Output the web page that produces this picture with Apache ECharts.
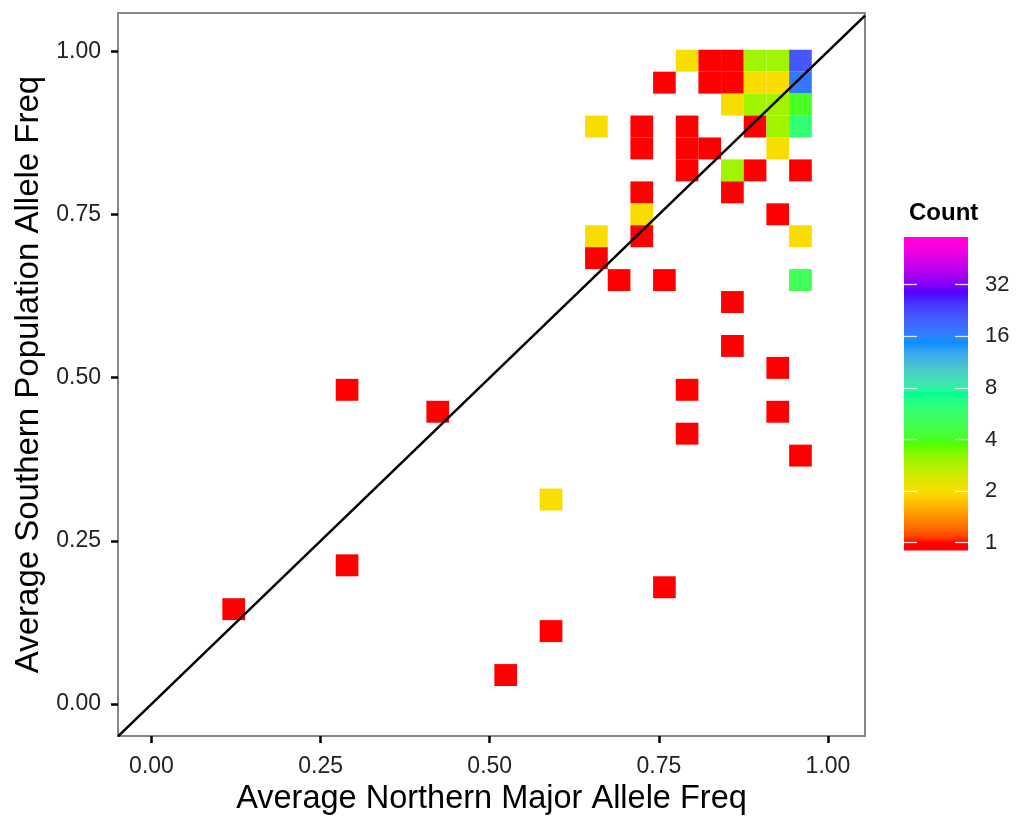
<!DOCTYPE html>
<html><head><meta charset="utf-8">
<script src="https://cdn.jsdelivr.net/npm/echarts@6/dist/echarts.min.js"></script>
<style>html,body{margin:0;padding:0;background:#fff}#chart{width:1016px;height:817px}</style>
</head><body><div id="chart"></div>
<script>
// ---- data: 2D bin centers and counts ----
const cellX = [
  0.7917,0.8252,0.8587,0.8922,0.9257,0.9593,
  0.7582,0.8252,0.8587,0.8922,0.9257,0.9593,
  0.8587,0.8922,0.9257,0.9593,
  0.6577,0.7247,0.7917,0.8922,0.9257,0.9593,
  0.7247,0.7917,0.8252,0.9257,
  0.7917,0.8587,0.8922,0.9593,
  0.7247,0.8587,
  0.7247,0.9257,
  0.6577,0.7247,0.9593,
  0.6577,
  0.6912,0.7582,0.9593,
  0.8587,
  0.8587,
  0.9257,
  0.2891,0.7917,
  0.4231,0.9257,
  0.7917,
  0.9593,
  0.5906,
  0.2891,
  0.7582,
  0.1215,
  0.5906,
  0.5236
];
const cellY = [
  0.9856,0.9856,0.9856,0.9856,0.9856,0.9856,
  0.9520,0.9520,0.9520,0.9520,0.9520,0.9520,
  0.9184,0.9184,0.9184,0.9184,
  0.8848,0.8848,0.8848,0.8848,0.8848,0.8848,
  0.8512,0.8512,0.8512,0.8512,
  0.8176,0.8176,0.8176,0.8176,
  0.7839,0.7839,
  0.7503,0.7503,
  0.7167,0.7167,0.7167,
  0.6831,
  0.6495,0.6495,0.6495,
  0.6159,
  0.5486,
  0.5150,
  0.4814,0.4814,
  0.4478,0.4478,
  0.4142,
  0.3806,
  0.3133,
  0.2125,
  0.1789,
  0.1453,
  0.1117,
  0.0444
];
const cellCount = [
  2,1,1,3,3,21,
  1,1,1,2,2,17,
  2,3,3,4,
  2,1,1,1,3,6,
  1,1,1,2,
  1,3,1,1,
  1,1,
  2,1,
  2,1,2,
  1,
  1,1,5,
  1,
  1,
  1,
  1,1,
  1,1,
  1,
  1,
  2,
  1,
  1,
  1,
  1,
  1
];
const xTicks = [0, 0.25, 0.5, 0.75, 1];
const yTicks = [0, 0.25, 0.5, 0.75, 1];
const legendBreaks = [1, 2, 4, 8, 16, 32];
const countLimits = [1, 54.6];
const palette = ['#FF0000','#FFDB00','#49FF00','#00FF92','#0092FF','#4900FF','#FF00DB'];
const ablineIntercept = 0, ablineSlope = 1;

// ---- layout / style constants ----
const binW = 0.03351, binH = 0.03361;
const xRange = [-0.0495, 1.0547], yRange = [-0.049, 1.0587];
const FONT = "'Liberation Sans', Arial, sans-serif";

// ---- Lab colour interpolation (like scales::gradient_n_pal) ----
const WHITE=[0.95047,1,1.08883];
function hexToRgb(h){return [1,3,5].map(i=>parseInt(h.substr(i,2),16)/255);}
function lin(c){return c<=0.04045?c/12.92:Math.pow((c+0.055)/1.055,2.4);}
function delin(c){return c<=0.0031308?12.92*c:1.055*Math.pow(c,1/2.4)-0.055;}
function rgbToLab(rgb){const [r,g,b]=rgb.map(lin);
  const X=0.4124564*r+0.3575761*g+0.1804375*b, Y=0.2126729*r+0.7151522*g+0.0721750*b, Z=0.0193339*r+0.1191920*g+0.9503041*b;
  const f=t=>t>216/24389?Math.cbrt(t):(24389/27*t+16)/116;
  const fx=f(X/WHITE[0]), fy=f(Y/WHITE[1]), fz=f(Z/WHITE[2]);
  return [116*fy-16, 500*(fx-fy), 200*(fy-fz)];}
function labToHex(L,a,b){const fy=(L+16)/116, fx=fy+a/500, fz=fy-b/200;
  const finv=t=>{const t3=t*t*t; return t3>216/24389?t3:(116*t-16)/(24389/27);};
  const X=finv(fx)*WHITE[0], Y=finv(fy)*WHITE[1], Z=finv(fz)*WHITE[2];
  const r=3.2404542*X-1.5371385*Y-0.4985314*Z, g=-0.9692660*X+1.8760108*Y+0.0415560*Z, bb=0.0556434*X-0.2040259*Y+1.0572252*Z;
  return '#'+[r,g,bb].map(c=>{c=Math.round(Math.min(1,Math.max(0,delin(Math.min(1,Math.max(0,c)))))*255);return c.toString(16).padStart(2,'0');}).join('');}
const palLab = palette.map(h=>rgbToLab(hexToRgb(h)));
function palColor(t){
  t=Math.min(1,Math.max(0,t));
  const s=t*(palLab.length-1); let k=Math.floor(s); if(k>=palLab.length-1)k=palLab.length-2;
  const f=s-k, A=palLab[k], B=palLab[k+1];
  return labToHex(A[0]+(B[0]-A[0])*f, A[1]+(B[1]-A[1])*f, A[2]+(B[2]-A[2])*f);
}
const L0=Math.log2(countLimits[0]), L1=Math.log2(countLimits[1]);
function countColor(c){return palColor((Math.log2(c)-L0)/(L1-L0));}

// legend bar: 20-bin colourbar -> half-bin padding
const nbin=20;
const pad=(L1-L0)*0.5/(nbin-1);
const legMin=L0-pad, legMax=L1+pad;
const stops=[];
for(let k=0;k<=80;k++){const f=k/80; const v=legMin+f*(legMax-legMin); stops.push({offset:f,color:palColor((v-L0)/(L1-L0))});}

const cells = cellX.map((x,i)=>[x, cellY[i], cellCount[i]]);
const lineData = [xRange[0], xRange[1]].map(x=>[x, ablineIntercept+ablineSlope*x]);
const legTickVals = legendBreaks.map(b=>Math.log2(b));

const chart = echarts.init(document.getElementById('chart'), null, {renderer:'canvas'});
chart.setOption({
  animation:false,
  backgroundColor:'#fff',
  title:{text:'Count', left:904, top:196, textStyle:{fontFamily:FONT, fontSize:24, fontWeight:'bold', color:'#000'}},
  grid:[
    {left:118, top:13, width:747, height:723, show:true, borderColor:'#878787', borderWidth:2, backgroundColor:'transparent', containLabel:false, outerBoundsMode:'none'},
    {left:904, top:237, width:64, height:313.5, show:false, containLabel:false, outerBoundsMode:'none'}
  ],
  xAxis:[
    {type:'value', gridIndex:0, min:xRange[0], max:xRange[1], position:'bottom',
     name:'Average Northern Major Allele Freq', nameLocation:'middle', nameGap:47,
     nameTextStyle:{fontFamily:FONT, fontSize:32.5, color:'#000'},
     axisLine:{show:false, onZero:false}, splitLine:{show:false},
     axisTick:{show:true, length:7, lineStyle:{color:'#000', width:2.5}, customValues:xTicks},
     axisLabel:{fontFamily:FONT, fontSize:23, color:'#222', margin:19, customValues:xTicks, formatter:v=>v.toFixed(2)}},
    {type:'value', gridIndex:1, min:0, max:1, show:false}
  ],
  yAxis:[
    {type:'value', gridIndex:0, min:yRange[0], max:yRange[1], position:'left',
     name:'Average Southern Population Allele Freq', nameLocation:'middle', nameGap:69,
     nameTextStyle:{fontFamily:FONT, fontSize:33, color:'#000'},
     axisLine:{show:false, onZero:false}, splitLine:{show:false},
     axisTick:{show:true, length:7, lineStyle:{color:'#000', width:2.5}, customValues:yTicks},
     axisLabel:{fontFamily:FONT, fontSize:23, color:'#222', margin:17, customValues:yTicks, formatter:v=>v.toFixed(2)}},
    {type:'value', gridIndex:1, min:legMin, max:legMax, position:'left', z:10,
     axisLine:{show:false, onZero:false}, splitLine:{show:false},
     axisTick:{show:true, inside:true, length:13, lineStyle:{color:'rgba(255,255,255,0.85)', width:1.3}, customValues:legTickVals},
     axisLabel:{show:false}},
    {type:'value', gridIndex:1, min:legMin, max:legMax, position:'right', z:10,
     axisLine:{show:false, onZero:false}, splitLine:{show:false},
     axisTick:{show:true, inside:true, length:13, lineStyle:{color:'rgba(255,255,255,0.85)', width:1.3}, customValues:legTickVals},
     axisLabel:{fontFamily:FONT, fontSize:22, color:'#222', margin:17, customValues:legTickVals,
       formatter:v=>String(Math.round(Math.pow(2,v)))}}
  ],
  series:[
    {type:'custom', xAxisIndex:0, yAxisIndex:0, data:cells, z:2, silent:true,
     renderItem:(params, api)=>{
       const x=api.value(0), y=api.value(1), c=api.value(2);
       const p0=api.coord([x-binW/2, y+binH/2]);
       const p1=api.coord([x+binW/2, y-binH/2]);
       return {type:'rect', shape:{x:p0[0], y:p0[1], width:p1[0]-p0[0], height:p1[1]-p0[1]}, style:{fill:countColor(c)}};
     }},
    {type:'line', xAxisIndex:0, yAxisIndex:0, data:lineData, symbol:'none', silent:true, z:5,
     lineStyle:{color:'#000', width:2.5}, clip:true},
    {type:'custom', xAxisIndex:1, yAxisIndex:1, data:[[0, legMin, legMax]], z:1, silent:true,
     renderItem:(params, api)=>{
       const p0=api.coord([0, api.value(2)]);
       const p1=api.coord([1, api.value(1)]);
       return {type:'rect', shape:{x:p0[0], y:p0[1], width:p1[0]-p0[0], height:p1[1]-p0[1]},
         style:{fill:{type:'linear', x:0, y:1, x2:0, y2:0, colorStops:stops}}};
     }}
  ]
});
</script></body></html>
